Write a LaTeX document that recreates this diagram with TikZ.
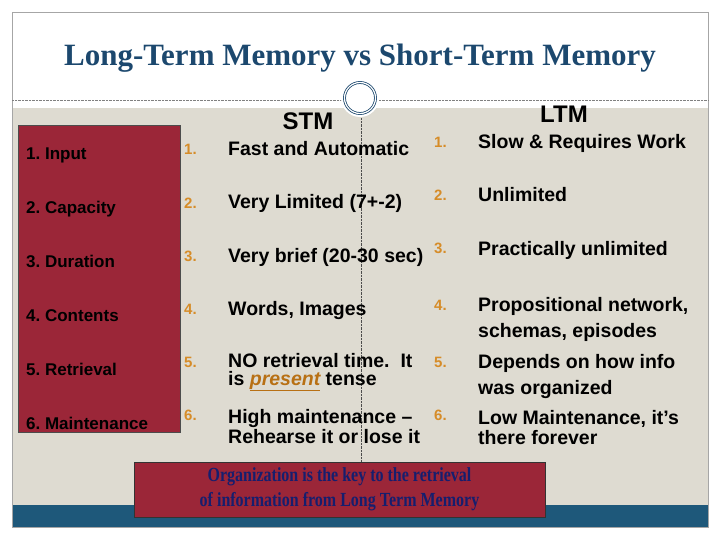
\documentclass[tikz,border=0pt]{standalone}
\usepackage{fontspec}
\setmainfont{Liberation Sans}
\newfontfamily\titlefont{Liberation Serif}
\newfontfamily\notefont[FakeStretch=0.8]{Liberation Serif}
\usetikzlibrary{positioning}
\definecolor{titleblue}{RGB}{28,72,110}
\definecolor{panelbeige}{RGB}{222,219,209}
\definecolor{barblue}{RGB}{30,88,122}
\definecolor{boxred}{RGB}{155,38,56}
\definecolor{numorange}{RGB}{214,140,40}
\definecolor{navytext}{RGB}{22,30,110}
\definecolor{presentcol}{RGB}{184,112,20}
\tikzset{
  num/.style={anchor=base west, text=numorange, font=\fontsize{15}{17}\selectfont\bfseries, inner sep=0pt},
  item/.style={anchor=base west, align=left, font=\fontsize{19.5}{20}\selectfont\bfseries, inner sep=0pt},
  wide/.style={item, font=\fontsize{19.5}{26}\selectfont\bfseries},
  side/.style={anchor=base west, font=\fontsize{17}{19}\selectfont\bfseries, inner sep=0pt},
  head/.style={font=\fontsize{24}{26}\selectfont\bfseries, inner sep=0pt}
}
\begin{document}
\begin{tikzpicture}[x=1pt,y=-1pt]
 \useasboundingbox (0,0) rectangle (720,540);
 % frame and panels
 \fill[panelbeige] (12,108) rectangle (708,505);
 \fill[barblue] (12,505) rectangle (708,527);
 \draw[gray!70] (12,12) rectangle (708,527);
 \draw[densely dotted, gray] (12,100) -- (708,100);
 \draw[densely dotted, gray!60!black] (361,118) -- (361,462);
 \node[circle, fill=white, minimum size=38pt, inner sep=0pt] (hub) at (360,98) {};
 \draw[titleblue, double=white, double distance=1.2pt, line width=0.8pt] (hub.center) circle (15.5);
 % title
 \node[titleblue, font=\titlefont\fontsize{31}{33}\selectfont\bfseries] (title) at (360,58) {Long-Term Memory vs Short-Term Memory};
 % left list
 \fill[boxred] (18,125) rectangle (180,432);
 \draw[black!70] (18,125) rectangle (180,432);
 \foreach \t [count=\i] in {Input,Capacity,Duration,Contents,Retrieval,Maintenance}
   \node[side] (s\i) at (26,{154+53.8*(\i-1)+6}) {\i.\ \t};
 % headings
 \node[head] (stm) at (308,121) {STM};
 \node[head] (ltm) at (564,114) {LTM};
 % STM column
 \foreach \n/\y in {1/155,2/208,3/261,4/314,5/367,6/420}
   \node[num] (sn\n) at (184,\y) {\n.};
 \node[item] (st1) at (228,156) {Fast and Automatic};
 \node[item] (st2) at (228,209) {Very Limited (7+-2)};
 \node[item] (st3) at (228,262) {Very brief (20-30 sec)};
 \node[item] (st4) at (228,315) {Words, Images};
 \node[item, font=\fontsize{19.5}{18}\selectfont\bfseries] (st5) at (228,385) {NO retrieval time.\ \ It\\is \textcolor{presentcol}{\underline{\itshape present}} tense};
 \node[item] (st6) at (228,443) {High maintenance --\\Rehearse it or lose it};
 % LTM column
 \foreach \n/\y in {1/148,2/201,3/254,4/310,5/367,6/420}
   \node[num] (ln\n) at (434,\y) {\n.};
 \node[item] (lt1) at (478,149) {Slow \& Requires Work};
 \node[item] (lt2) at (478,202) {Unlimited};
 \node[item] (lt3) at (478,255) {Practically unlimited};
 \node[wide] (lt4) at (478,337) {Propositional network,\\schemas, episodes};
 \node[wide] (lt5) at (478,394) {Depends on how info\\was organized};
 \node[item] (lt6) at (478,444) {Low Maintenance, it's\\there forever};
 % bottom note
 \node[draw=black!80, fill=boxred, text=navytext, minimum width=411pt, minimum height=55pt, align=center,
   font=\notefont\fontsize{20}{25}\selectfont\bfseries] (note) at (339.5,489.5)
   {Organization is the key to the retrieval\\of information from Long Term Memory};
\end{tikzpicture}
\end{document}
